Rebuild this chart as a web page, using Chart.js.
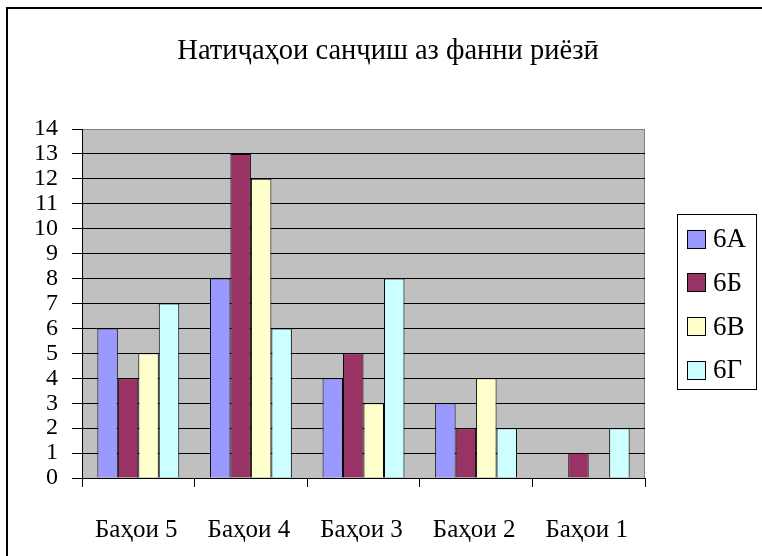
<!DOCTYPE html>
<html>
<head>
<meta charset="utf-8">
<script src="https://cdn.jsdelivr.net/npm/chart.js@4/dist/chart.umd.min.js"></script>
<style>
  html, body { margin: 0; padding: 0; background: #fff; overflow: hidden; }
  #frame { position: absolute; left: 6px; top: 7px; width: 800px; height: 600px; border: 2px solid #000; box-sizing: border-box; }
  #c { position: absolute; left: 0; top: 0; }
</style>
</head>
<body>
<div id="frame"></div>
<canvas id="c" width="762" height="556"></canvas>
<script>
// Test results by grade and class
const chartTitle = 'Натиҷаҳои санҷиш аз фанни риёзӣ';
const categories = ['Баҳои 5', 'Баҳои 4', 'Баҳои 3', 'Баҳои 2', 'Баҳои 1'];
const seriesNames = ['6А', '6Б', '6В', '6Г'];
const class6A = [6, 8, 4, 3, 0];
const class6B = [4, 13, 5, 2, 1];
const class6V = [5, 12, 3, 4, 0];
const class6G = [7, 6, 8, 2, 2];
const yMax = 14;

const colors = ['#9999FF', '#993366', '#FFFFCC', '#CCFFFF'];
const FAMILY = "'Liberation Serif'";

const seriesValues = [class6A, class6B, class6V, class6G];

Chart.defaults.font.family = FAMILY;

// Grey plot background, grey right frame edge and the chart title
const plotFrame = {
  id: 'plotFrame',
  beforeDraw(chart) {
    const { ctx, chartArea: a } = chart;
    ctx.save();
    ctx.fillStyle = '#C0C0C0';
    ctx.fillRect(a.left, a.top, a.right - a.left, a.bottom - a.top);
    ctx.strokeStyle = '#808080';
    ctx.lineWidth = 1;
    ctx.beginPath();
    ctx.moveTo(Math.round(a.right) - 0.5, a.top);
    ctx.lineTo(Math.round(a.right) - 0.5, a.bottom);
    ctx.stroke();
    ctx.restore();
  },
  afterDraw(chart) {
    const { ctx } = chart;
    ctx.save();
    ctx.fillStyle = '#000';
    ctx.font = '28.5px ' + FAMILY;
    ctx.textAlign = 'center';
    ctx.textBaseline = 'middle';
    ctx.fillText(chartTitle, 388, 52);
    ctx.restore();
  }
};

// Boxed legend to the right of the plot
const boxLegend = {
  id: 'boxLegend',
  afterDraw(chart) {
    const { ctx } = chart;
    const x = 677, y = 214, w = 80, h = 176;
    ctx.save();
    ctx.fillStyle = '#fff';
    ctx.fillRect(x, y, w, h);
    ctx.strokeStyle = '#000';
    ctx.lineWidth = 1;
    ctx.strokeRect(x + 0.5, y + 0.5, w - 1, h - 1);
    ctx.font = '27px ' + FAMILY;
    ctx.textBaseline = 'middle';
    ctx.textAlign = 'left';
    chart.data.datasets.forEach((ds, i) => {
      const cy = 239 + i * 43.8;
      ctx.fillStyle = ds.backgroundColor;
      ctx.fillRect(687, Math.round(cy - 9.5), 19, 19);
      ctx.strokeRect(687.5, Math.round(cy - 9.5) + 0.5, 18, 18);
      ctx.fillStyle = '#000';
      ctx.fillText(ds.label, 713, cy + 1);
    });
    ctx.restore();
  }
};

new Chart(document.getElementById('c'), {
  type: 'bar',
  data: {
    labels: categories,
    datasets: seriesNames.map((name, i) => ({
      label: name,
      data: seriesValues[i],
      backgroundColor: colors[i],
      borderColor: '#000',
      borderWidth: 1,
      categoryPercentage: 4 / 5.5,
      barPercentage: 1
    }))
  },
  options: {
    responsive: false,
    animation: false,
    devicePixelRatio: 1,
    layout: { padding: { left: 0, right: 117, top: 129, bottom: 0 } },
    plugins: {
      legend: { display: false },
      title: { display: false },
      tooltip: { enabled: false }
    },
    scales: {
      x: {
        offset: true,
        grid: { offset: true, drawOnChartArea: false, drawTicks: true, tickLength: 9, color: '#000' },
        border: { display: true, color: '#000', width: 1 },
        ticks: { color: '#000', font: { family: FAMILY, size: 25 }, padding: 28, labelOffset: -2, maxRotation: 0, autoSkip: false },
        afterFit(scale) { scale.height = 78; }
      },
      y: {
        min: 0,
        max: yMax,
        grid: {
          color: (c) => (c.tick && c.tick.value === yMax ? '#808080' : '#000'),
          tickColor: '#000',
          tickLength: 10,
          lineWidth: 1
        },
        border: { display: true, color: '#000', width: 1 },
        ticks: { stepSize: 1, autoSkip: false, color: '#000', font: { family: FAMILY, size: 24 }, padding: 14 },
        afterFit(scale) { scale.width = 82; }
      }
    }
  },
  plugins: [plotFrame, boxLegend]
});
</script>
</body>
</html>
